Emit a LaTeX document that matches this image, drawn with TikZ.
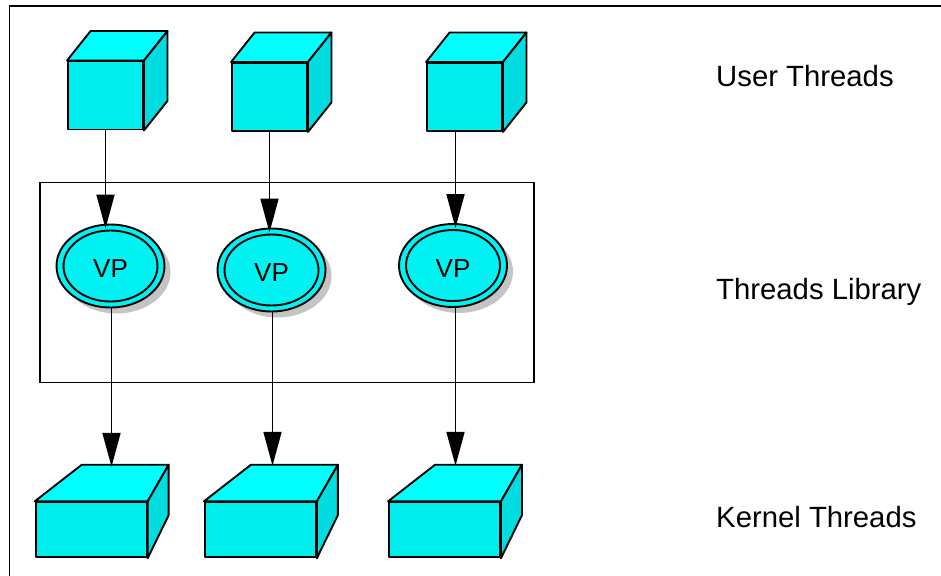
\documentclass[tikz,border=0pt]{standalone}
\usepackage{fontspec}
\setmainfont{Liberation Sans}
\usetikzlibrary{arrows.meta,shapes.geometric,shadows}

\definecolor{cyantop}{HTML}{00FFFF}
\definecolor{cyanfront}{HTML}{00EEEE}
\definecolor{cyanside}{HTML}{00DCDF}
\definecolor{vpfill}{HTML}{00F2F2}
\definecolor{shadowgray}{HTML}{C4C4C4}

\tikzset{
  outline/.style={draw=black, line width=1.9pt, line join=round},
  face/.style={outline, fill=cyanfront, inner sep=0pt, minimum width=#1},
  userface/.style={face=75pt, minimum height=68pt},
  kernelface/.style={face=111pt, minimum height=55pt},
  topface/.style={outline, fill=cyantop},
  sideface/.style={outline, fill=cyanside},
  vpnode/.style={ellipse, outline, fill=vpfill, inner sep=0pt,
    minimum width=108pt, minimum height=83pt,
    drop shadow={shadow xshift=6pt, shadow yshift=-6pt, fill=shadowgray, opacity=1}},
  vpinner/.style={outline},
  vptext/.style={font=\fontsize{26}{26}\selectfont},
  link/.style={draw=black, line width=1.8pt,
    -{Triangle[length=34pt,width=18pt]}},
  frame/.style={draw=black, line width=1.4pt},
  label/.style={anchor=base west, inner sep=0pt, font=\fontsize{29.3}{29.3}\selectfont},
}

% top and side faces of a box whose front face is the node #1;
% #2/#3: horizontal shift of the back-left/back-right edge,
% #4: lift of the back top edge, #5: lift of the back bottom corner
\newcommand\boxfaces[5]{%
  \path[topface] (#1.north west) -- ++(#2,#4) -- ([shift={(#3,#4)}]#1.north east)
    -- (#1.north east) -- cycle;
  \path[sideface] (#1.north east) -- ++(#3,#4) -- ([shift={(#3,#5)}]#1.south east)
    -- (#1.south east) -- cycle;
  \coordinate (#1t) at ([shift={(#3,#4)}]#1.north east);
}

\begin{document}
\begin{tikzpicture}[x=1pt, y=-1pt]
\useasboundingbox (0,0) rectangle (941,575);

% outer frame
\draw[frame] (9.5,576) -- (9.5,6) -- (942,6);

% threads library box
\node[frame, inner sep=0pt, minimum width=494pt, minimum height=200pt]
  (lib) at (287,282.5) {};

% user threads
\node[userface] (u1) at (105.5,95.5) {};
\node[userface] (u2) at (269.5,97) {};
\node[userface] (u3) at (464.5,97) {};
\boxfaces{u1}{23.5}{23.5}{-29.5}{-29.5}
\boxfaces{u2}{23.5}{23.5}{-29.5}{-29.5}
\boxfaces{u3}{23.5}{23.5}{-29.5}{-29.5}

% virtual processors
\node[vpnode] (vp1) at (110.5,266) {};
\node[vpnode] (vp2) at (271.5,270) {};
\node[vpnode] (vp3) at (453,265.5) {};
\foreach \v in {vp1,vp2,vp3}{
  \draw[vpinner] (\v.center) ellipse [x radius=47pt, y radius=35.5pt];
  \node[vptext] at ([yshift=-3pt]\v.center) {VP};
}

% kernel threads
\node[kernelface] (k1) at (91.2,529.8) {};
\node[kernelface] (k2) at (260.4,529.8) {};
\node[kernelface] (k3) at (444.5,529.8) {};
\boxfaces{k1}{47}{21}{-36.6}{-43}
\boxfaces{k2}{47}{21}{-36.6}{-43}
\boxfaces{k3}{47}{21}{-36.6}{-43}

% user thread -> virtual processor
\draw[link, shorten >=-5pt] (u1.south) -- (u1.south |- vp1.north);
\draw[link, shorten >=-5pt] (u2.south) -- (u2.south |- vp2.north);
\draw[link, shorten >=-5pt] ([xshift=-9pt]u3.south) -- ([xshift=-9pt]u3.south |- vp3.north);

% virtual processor -> kernel thread
\draw[link, shorten >=-2pt] ([xshift=1pt]vp1.south) -- ([xshift=1pt]vp1.south |- k1t);
\draw[link, shorten >=-1pt] ([xshift=1pt]vp2.south) -- ([xshift=1pt]vp2.south |- k2t);
\draw[link, shorten >=-1pt] ([xshift=2.5pt]vp3.south) -- ([xshift=2.5pt]vp3.south |- k3t);

% layer labels
\node[label] (lu) at (716,86.5) {User Threads};
\node[label] (ll) at (716,299) {Threads Library};
\node[label] (lk) at (716,527) {Kernel Threads};
\end{tikzpicture}
\end{document}
